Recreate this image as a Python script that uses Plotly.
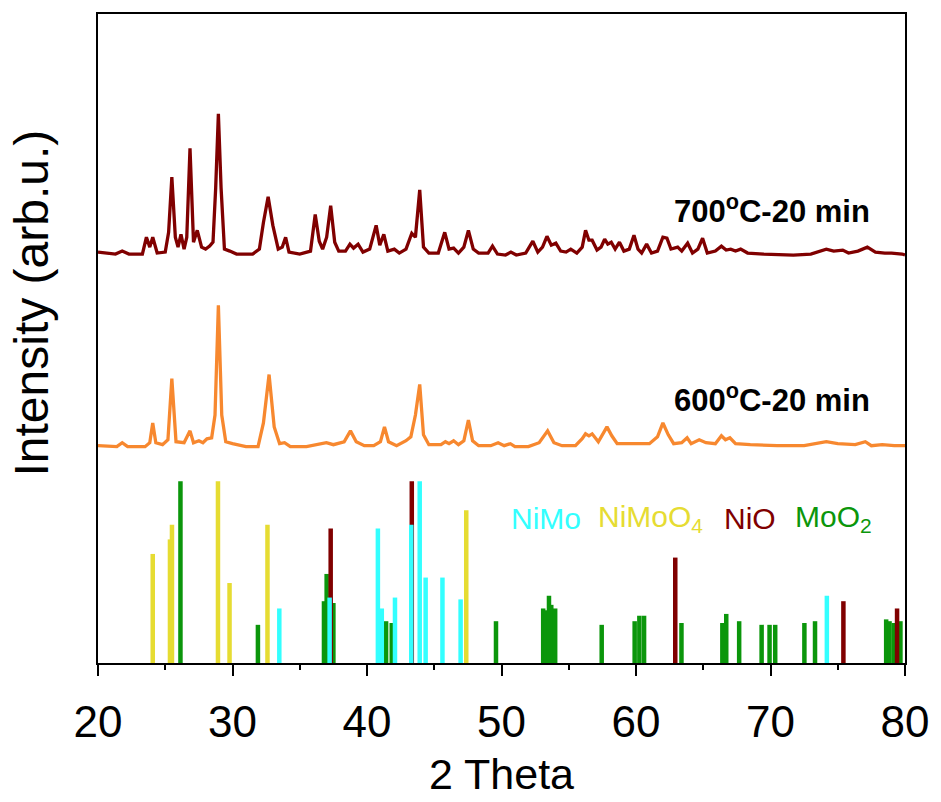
import plotly.graph_objects as go

# ---------------- data ----------------
# XRD pattern 700 C - 20 min : (2theta, intensity above stack offset, arb.u.)
tt_700 = [20.0, 21.3, 21.8, 22.3, 23.3, 23.6, 23.85, 24.07, 24.4, 25.0, 25.25, 25.49, 25.75, 25.95,
          26.17, 26.4, 26.6, 26.84, 27.1, 27.38, 27.7, 28.0, 28.3, 28.55, 28.75, 28.95, 29.15, 29.4,
          29.8, 30.3, 31.5, 32.0, 32.3, 32.65, 33.0, 33.4, 33.7, 33.95, 34.2, 35.0, 35.8, 36.15, 36.45,
          36.7, 37.0, 37.3, 37.6, 37.9, 38.4, 38.73, 39.0, 39.34, 39.7, 40.2, 40.68, 40.95, 41.25, 41.55,
          42.03, 42.4, 42.9, 43.33, 43.6, 43.92, 44.2, 44.6, 45.3, 45.78, 46.1, 46.44, 46.8, 47.2, 47.54,
          47.9, 48.3, 49.0, 49.33, 49.7, 50.3, 50.7, 51.1, 51.8, 52.33, 52.7, 53.05, 53.38, 53.7, 54.04,
          54.4, 54.8, 55.15, 55.6, 56.0, 56.25, 56.5, 56.74, 57.1, 57.4, 57.67, 57.9, 58.16, 58.45, 58.77,
          59.1, 59.5, 59.85, 60.15, 60.42, 60.79, 61.15, 61.6, 62.0, 62.3, 62.6, 63.1, 63.4, 63.84, 64.2,
          64.6, 64.95, 65.3, 65.9, 66.35, 66.7, 67.04, 67.4, 67.78, 68.3, 69.5, 71.7, 73.0, 74.15, 74.7,
          75.37, 75.8, 76.5, 77.2, 77.8, 78.5, 79.0, 79.78, 80.0]
int_700 = [7, 5, 8, 5, 5, 22, 12, 22, 6, 7, 27, 83, 22, 12,
           25, 10, 22, 112, 17, 29, 12, 10, 13, 17, 72, 147, 72, 10,
           8, 5, 5, 10, 37, 63, 34, 10, 12, 22, 7, 5, 8, 45, 18,
           10, 22, 54, 17, 8, 8, 15, 11, 15, 7, 10, 34, 14, 25, 8,
           10, 6, 10, 26, 22, 70, 12, 6, 6, 27, 10, 11, 6, 12, 29,
           10, 6, 6, 13, 5, 4, 7, 4, 6, 18, 7, 12, 23, 14, 16,
           8, 7, 10, 6, 12, 29, 19, 19, 9, 12, 20, 15, 17, 10, 17,
           8, 10, 24, 10, 6, 15, 6, 8, 22, 21, 10, 12, 8, 16, 6,
           10, 21, 6, 8, 13, 9, 10, 8, 10, 6, 5, 4, 5, 10, 8,
           9, 6, 8, 12, 7, 6, 6, 5, 4]

# XRD pattern 600 C - 20 min
tt_600 = [20.0, 21.4, 21.8, 22.2, 23.5, 23.85, 24.07, 24.3, 24.8, 25.2, 25.49, 25.8, 26.4, 26.84,
          27.1, 27.5, 27.8, 28.1, 28.45, 28.7, 28.95, 29.2, 29.5, 30.0, 31.0, 31.9, 32.3, 32.72, 33.1,
          33.5, 33.87, 34.3, 35.5, 36.4, 36.98, 37.5, 38.3, 38.77, 39.2, 39.8, 40.5, 41.0, 41.3, 41.6,
          42.2, 42.9, 43.26, 43.6, 43.92, 44.2, 44.6, 45.5, 45.83, 46.1, 46.44, 46.8, 47.2, 47.54, 47.85,
          48.3, 49.2, 49.75, 50.2, 50.66, 51.0, 52.0, 52.8, 53.43, 53.9, 54.5, 55.5, 56.0, 56.25, 56.5,
          56.74, 57.2, 57.5, 57.84, 58.2, 58.6, 59.5, 60.5, 61.0, 61.6, 62.0, 62.4, 62.8, 63.4, 63.8,
          64.1, 64.7, 65.2, 65.9, 66.35, 66.65, 66.98, 67.4, 68.5, 70.5, 72.5, 73.5, 74.15, 75.0, 76.3,
          77.05, 77.5, 78.3, 79.2, 80.0]
int_600 = [5, 4, 8, 4, 4, 8, 28, 8, 6, 11, 73, 9, 8, 20,
           8, 10, 8, 12, 13, 36, 147, 36, 9, 7, 4, 4, 28, 77, 24,
           7, 8, 4, 4, 6, 8, 6, 9, 20, 9, 5, 5, 9, 24, 9,
           5, 10, 14, 36, 67, 16, 6, 6, 9, 7, 10, 6, 10, 31, 10,
           5, 5, 8, 5, 7, 4, 4, 8, 20, 8, 5, 5, 12, 17, 15,
           17, 9, 16, 24, 15, 7, 7, 7, 7, 14, 28, 16, 7, 8, 13,
           7, 11, 8, 7, 15, 11, 13, 7, 6, 5, 5, 7, 9, 7, 6,
           9, 5, 6, 5, 5]

# Reference stick patterns: (2theta, relative intensity %)
nimo_pos = [33.48, 37.22, 40.81, 41.10, 42.08, 43.29, 43.92, 44.36, 45.61, 46.96, 74.19]
nimo_int = [30, 36, 74, 30, 36, 76, 100, 47, 47, 35, 37]

nimoo4_pos = [24.07, 25.35, 25.50, 28.92, 29.78, 32.60, 47.38]
nimoo4_int = [60, 68, 76, 100, 44, 76, 84]

nio_pos = [37.30, 43.33, 62.92, 75.42, 79.41]
nio_int = [74, 100, 58, 34, 30]

moo2_pos = [26.13, 31.89, 36.80, 37.00, 37.50, 41.42, 41.84, 49.59, 53.10, 53.30, 53.53, 53.70,
            53.99, 57.45, 59.90, 60.25, 60.60, 63.38, 66.42, 66.71, 67.67, 69.34, 69.93, 70.35,
            72.52, 73.31, 78.60, 78.85, 79.17, 79.66]
moo2_int = [100, 21, 34, 49, 33, 23, 22, 23, 30, 29, 37, 32,
            30, 21, 23, 26, 26, 22, 22, 27, 23, 21, 21, 21,
            22, 23, 24, 23, 22, 23]

curve_labels = ["700<sup>o</sup>C-20 min", "600<sup>o</sup>C-20 min"]
phase_names = ["NiMo", "NiMoO<sub>4</sub>", "NiO", "MoO<sub>2</sub>"]

# ---------------- styling / layout constants ----------------
OFF_700 = 409
OFF_600 = 215
STICK_SCALE = 1.84
FONT = "Arial, Liberation Sans, sans-serif"
C_700 = "#800000"
C_600 = "#F7882F"
C_NIMO = "#33FFFF"
C_NIMOO4 = "#E6DC32"
C_NIO = "#800000"
C_MOO2 = "#0B960B"

fig = go.Figure()


def sticks(pos, inten):
    xs, ys = [], []
    for p, v in zip(pos, inten):
        xs += [p, p, None]
        ys += [0, v * STICK_SCALE, None]
    return xs, ys


for pos, inten, col in [(moo2_pos, moo2_int, C_MOO2), (nimoo4_pos, nimoo4_int, C_NIMOO4),
                        (nio_pos, nio_int, C_NIO), (nimo_pos, nimo_int, C_NIMO)]:
    xs, ys = sticks(pos, inten)
    fig.add_trace(go.Scatter(x=xs, y=ys, mode="lines", line=dict(color=col, width=4.5),
                             showlegend=False, hoverinfo="skip"))

fig.add_trace(go.Scatter(x=tt_600, y=[v + OFF_600 for v in int_600], mode="lines",
                         line=dict(color=C_600, width=3.3), showlegend=False))
fig.add_trace(go.Scatter(x=tt_700, y=[v + OFF_700 for v in int_700], mode="lines",
                         line=dict(color=C_700, width=3.3), showlegend=False))

ann = []
ann.append(dict(x=70.1, y=460, xref="x", yref="y", text="<b>" + curve_labels[0] + "</b>",
                showarrow=False, font=dict(family=FONT, size=31, color="black"),
                xanchor="center", yanchor="middle"))
ann.append(dict(x=70.1, y=268, xref="x", yref="y", text="<b>" + curve_labels[1] + "</b>",
                showarrow=False, font=dict(family=FONT, size=31, color="black"),
                xanchor="center", yanchor="middle"))
for name, xx, col in zip(phase_names, [50.53, 57.02, 66.38, 71.68],
                         [C_NIMO, C_NIMOO4, C_NIO, C_MOO2]):
    ann.append(dict(x=xx, y=146, xref="x", yref="y", text=name, showarrow=False,
                    font=dict(family=FONT, size=30, color=col),
                    xanchor="left", yanchor="middle"))
ann.append(dict(x=-0.083, y=0.5, xref="paper", yref="paper", text="Intensity (arb.u.)",
                textangle=-90, showarrow=False, font=dict(family=FONT, size=48, color="black"),
                xanchor="center", yanchor="middle", yshift=35))

fig.update_layout(
    width=941, height=802,
    margin=dict(l=98, r=29, t=14, b=131),
    plot_bgcolor="white", paper_bgcolor="white",
    annotations=ann,
    xaxis=dict(range=[20, 80], dtick=10, tick0=20, ticks="outside", ticklen=11, tickwidth=2,
               tickcolor="black", showline=True, linecolor="black", linewidth=2, mirror=True,
               showgrid=False, zeroline=False, ticklabelstandoff=8,
               tickfont=dict(family=FONT, size=44, color="black"),
               minor=dict(dtick=5, ticks="outside", ticklen=5, tickwidth=2, tickcolor="black"),
               title=dict(text="2 Theta", font=dict(family=FONT, size=43, color="black"),
                          standoff=14)),
    yaxis=dict(range=[0, 657], showticklabels=False, ticks="", showline=True, linecolor="black",
               linewidth=2, mirror=True, showgrid=False, zeroline=False),
)

fig.write_html("out.html", config={"displayModeBar": False},
               post_script="document.body.style.margin='0';document.body.style.overflow='hidden';")
